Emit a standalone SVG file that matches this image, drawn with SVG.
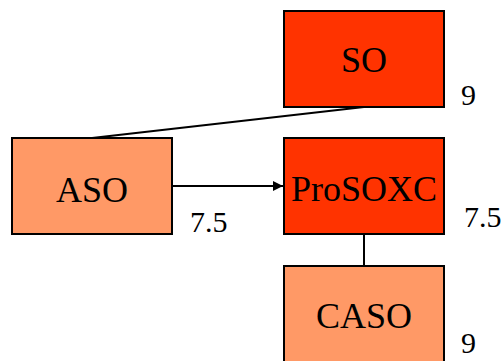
<svg xmlns="http://www.w3.org/2000/svg" width="503" height="361" viewBox="0 0 503 361">
<style>
.box{stroke:#000;stroke-width:2}
.dark{fill:#FF3300}
.light{fill:#FF9966}
.name{font-family:"Liberation Serif",serif;font-size:36px;text-anchor:middle;fill:#000}
.val{font-family:"Liberation Serif",serif;font-size:30px;fill:#000}
.edge{stroke:#000;stroke-width:2;fill:none}
</style>
<defs>
<marker id="arr" viewBox="0 0 10 10" refX="10" refY="5" markerWidth="5" markerHeight="5" orient="auto" markerUnits="strokeWidth">
<path d="M0,0 L10,5 L0,10 z" fill="#000"/>
</marker>
</defs>
<g id="connectors">
<line class="edge" x1="92" y1="138" x2="364" y2="107"/>
<line class="edge" x1="172" y1="186" x2="283" y2="186" marker-end="url(#arr)"/>
<line class="edge" x1="364" y1="235" x2="364" y2="266"/>
</g>
<g id="SO">
<rect class="box dark" x="284" y="11" width="160" height="96"/>
<text class="name" x="364" y="72">SO</text>
<text class="val" x="461" y="105">9</text>
</g>
<g id="ASO">
<rect class="box light" x="12" y="138" width="160" height="96"/>
<text class="name" x="92" y="202">ASO</text>
<text class="val" x="190" y="232">7.5</text>
</g>
<g id="ProSOXC">
<rect class="box dark" x="284" y="138" width="160" height="96"/>
<text class="name" x="364" y="201">ProSOXC</text>
<text class="val" x="464" y="227">7.5</text>
</g>
<g id="CASO">
<rect class="box light" x="284" y="266" width="160" height="96"/>
<text class="name" x="364" y="328">CASO</text>
<text class="val" x="461" y="353">9</text>
</g>
</svg>
